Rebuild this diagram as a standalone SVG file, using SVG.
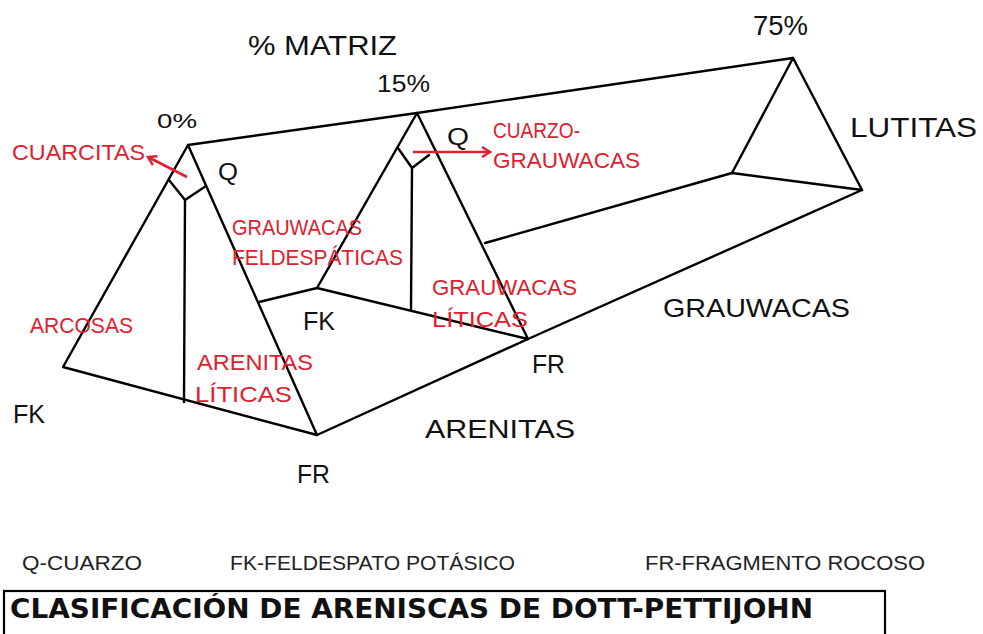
<svg xmlns="http://www.w3.org/2000/svg" width="983" height="634" viewBox="0 0 983 634">
<defs>
<style>
.ln{stroke:#000;stroke-width:2.4;fill:none;stroke-linejoin:round;stroke-linecap:round}
.ar{stroke:#e0202e;stroke-width:2.6;fill:none}
.bk{font-family:"Liberation Sans","DejaVu Sans",sans-serif;fill:#111}
.rd{font-family:"Liberation Sans","DejaVu Sans",sans-serif;fill:#e0202e;font-size:22px}
.lg{font-family:"Liberation Sans Narrow","Liberation Sans",sans-serif;fill:#222;font-size:21px}
.tt{font-family:"DejaVu Sans","Liberation Sans",sans-serif;font-weight:bold;fill:#111;font-size:26px}
</style>
<marker id="hd" viewBox="0 0 12 12" refX="10" refY="6" markerWidth="12" markerHeight="12" markerUnits="userSpaceOnUse" orient="auto">
<path d="M2,1 L10,6 L2,11" stroke="#e0202e" stroke-width="2.4" fill="none"/>
</marker>
</defs>
<rect width="983" height="634" fill="#fff"/>
<g id="connectors">
<path class="ln" d="M188,145 L63,367 L317,435 Z"/>
<path class="ln" d="M169,180 L185,200 L206,186"/>
<path class="ln" d="M185,200 L184,402"/>
<path class="ln" d="M188,145 L417,113 L793,58"/>
<path class="ln" d="M417,113 L317,288 L528,339 Z"/>
<path class="ln" d="M398,148 L412,168 L429,155"/>
<path class="ln" d="M412,168 L411,310"/>
<path class="ln" d="M259,302 L317,288"/>
<path class="ln" d="M793,58 L732,173 L862,190 Z"/>
<path class="ln" d="M485,243 L732,173"/>
<path class="ln" d="M528,339 L862,190"/>
<path class="ln" d="M317,435 L528,339"/>
<path class="ar" d="M187,177 L148,157" marker-end="url(#hd)"/>
<path class="ar" d="M413,152 L490,152" marker-end="url(#hd)"/>
</g>
<g id="labels-black">
<text class="bk" x="248" y="55" font-size="27" textLength="149" lengthAdjust="spacingAndGlyphs">% MATRIZ</text>
<text class="bk" x="377" y="92" font-size="23" textLength="53" lengthAdjust="spacingAndGlyphs">15%</text>
<text class="bk" x="157" y="128" font-size="21" textLength="40" lengthAdjust="spacingAndGlyphs">0%</text>
<text class="bk" x="753" y="35" font-size="27" textLength="55" lengthAdjust="spacingAndGlyphs">75%</text>
<text class="bk" x="850" y="137" font-size="27" textLength="127" lengthAdjust="spacingAndGlyphs">LUTITAS</text>
<text class="bk" x="218" y="180" font-size="24" textLength="20" lengthAdjust="spacingAndGlyphs">Q</text>
<text class="bk" x="447" y="145" font-size="24" textLength="22" lengthAdjust="spacingAndGlyphs">Q</text>
<text class="bk" x="303" y="330" font-size="25" textLength="32" lengthAdjust="spacingAndGlyphs">FK</text>
<text class="bk" x="532" y="373" font-size="25" textLength="33" lengthAdjust="spacingAndGlyphs">FR</text>
<text class="bk" x="13" y="423" font-size="25" textLength="32" lengthAdjust="spacingAndGlyphs">FK</text>
<text class="bk" x="297" y="483" font-size="25" textLength="33" lengthAdjust="spacingAndGlyphs">FR</text>
<text class="bk" x="425" y="438" font-size="25" textLength="150" lengthAdjust="spacingAndGlyphs">ARENITAS</text>
<text class="bk" x="663" y="317" font-size="26" textLength="187" lengthAdjust="spacingAndGlyphs">GRAUWACAS</text>
</g>
<g id="labels-red">
<text class="rd" x="12" y="160" font-size="19" textLength="133" lengthAdjust="spacingAndGlyphs">CUARCITAS</text>
<text class="rd" x="493" y="138" textLength="87" lengthAdjust="spacingAndGlyphs">CUARZO-</text>
<text class="rd" x="493" y="168" textLength="147" lengthAdjust="spacingAndGlyphs">GRAUWACAS</text>
<text class="rd" x="232" y="235" textLength="130" lengthAdjust="spacingAndGlyphs">GRAUWACAS</text>
<text class="rd" x="232" y="265" textLength="171" lengthAdjust="spacingAndGlyphs">FELDESPÁTICAS</text>
<text class="rd" x="432" y="295" textLength="145" lengthAdjust="spacingAndGlyphs">GRAUWACAS</text>
<text class="rd" x="432" y="327" textLength="96" lengthAdjust="spacingAndGlyphs">LÍTICAS</text>
<text class="rd" x="30" y="333" textLength="103" lengthAdjust="spacingAndGlyphs">ARCOSAS</text>
<text class="rd" x="197" y="370" textLength="116" lengthAdjust="spacingAndGlyphs">ARENITAS</text>
<text class="rd" x="195" y="402" textLength="97" lengthAdjust="spacingAndGlyphs">LÍTICAS</text>
</g>
<g id="legend">
<text class="lg" x="22" y="570" textLength="120" lengthAdjust="spacingAndGlyphs">Q-CUARZO</text>
<text class="lg" x="230" y="570" textLength="285" lengthAdjust="spacingAndGlyphs">FK-FELDESPATO POTÁSICO</text>
<text class="lg" x="645" y="570" textLength="280" lengthAdjust="spacingAndGlyphs">FR-FRAGMENTO ROCOSO</text>
</g>
<g id="title">
<rect x="4" y="591" width="881" height="50" fill="none" stroke="#000" stroke-width="2.2"/>
<text class="tt" x="10" y="618" textLength="803" lengthAdjust="spacingAndGlyphs">CLASIFICACIÓN DE ARENISCAS DE DOTT-PETTIJOHN</text>
</g>
</svg>
